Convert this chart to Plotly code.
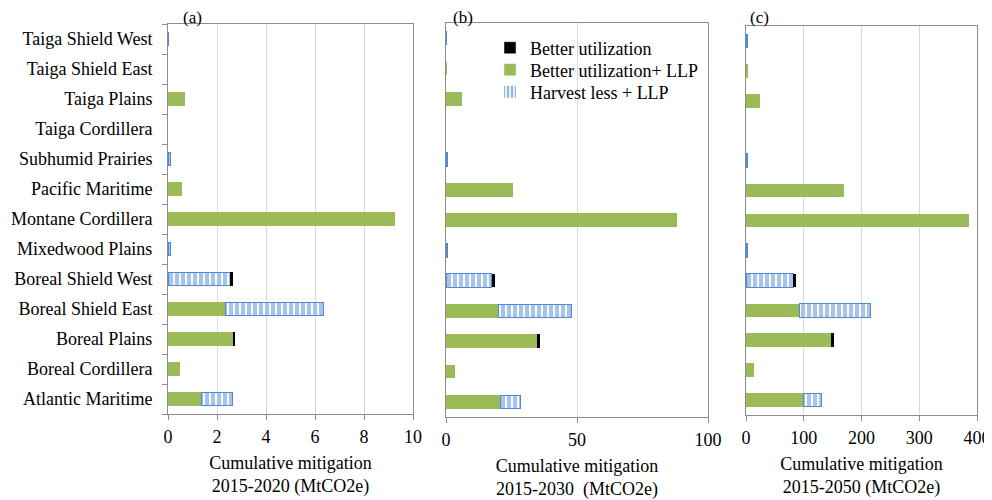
import plotly.graph_objects as go

categories = ["Taiga Shield West", "Taiga Shield East", "Taiga Plains", "Taiga Cordillera",
              "Subhumid Prairies", "Pacific Maritime", "Montane Cordillera", "Mixedwood Plains",
              "Boreal Shield West", "Boreal Shield East", "Boreal Plains", "Boreal Cordillera",
              "Atlantic Maritime"]

# Panel (a) 2015-2020
a_llp = [0, 0, 0.7, 0, 0, 0.58, 9.28, 0, 0, 2.35, 2.69, 0.48, 1.36]
a_harvest = [0.02, 0, 0, 0, 0.1, 0, 0, 0.1, 2.57, 4.0, 0, 0, 1.28]
a_better = [0, 0, 0, 0, 0, 0, 0, 0, 0.07, 0, 0.06, 0, 0]

# Panel (b) 2015-2030
b_llp = [0, 0.3, 6.0, 0, 0, 25.6, 88.2, 0, 0, 20.2, 34.7, 3.3, 20.9]
b_harvest = [0.3, 0, 0, 0, 0.6, 0, 0, 0.6, 17.4, 27.8, 0, 0, 7.7]
b_better = [0, 0, 0, 0, 0, 0, 0, 0, 1.3, 0, 1.3, 0, 0]

# Panel (c) 2015-2050
c_llp = [0, 3, 24, 0, 0, 170, 387, 0, 0, 92, 146.6, 14, 99]
c_harvest = [3, 0, 0, 0, 3, 0, 0, 3, 82, 124, 0, 0, 31]
c_better = [0, 0, 0, 0, 0, 0, 0, 0, 4.6, 0, 5.4, 0, 0]

x_ranges = [[0, 10], [0, 100], [0, 400]]
x_dticks = [2, 50, 100]
x_titles = ["Cumulative mitigation<br>2015-2020 (MtCO2e)",
            "Cumulative mitigation<br>2015-2030  (MtCO2e)",
            "Cumulative mitigation<br>2015-2050 (MtCO2e)"]
panel_labels = ["(a)", "(b)", "(c)"]
legend_names = ["Better utilization", "Better utilization+ LLP", "Harvest less + LLP"]

GREEN = "#9BBB59"
BLUE = "#5289D6"
BLACK = "#000000"
FONT = "Liberation Serif, Times New Roman, Times, serif"
FS = 18

# the page body adds an 8px offset, so the figure is 984x492 and positions are shifted by 8px
W, H = 984, 492
doms_x = [[160 / W, 405 / W], [438 / W, 700 / W], [738 / W, 969 / W]]
doms_y = [[1 - 406 / H, 1 - 16 / H], [1 - 409 / H, 1 - 15 / H], [1 - 407 / H, 1 - 18 / H]]


def nz(vals):
    return [v if v else None for v in vals]


fig = go.Figure()
panels = [(a_llp, a_harvest, a_better), (b_llp, b_harvest, b_better), (c_llp, c_harvest, c_better)]
for i, (llp, harv, bet) in enumerate(panels):
    xa = "x" if i == 0 else f"x{i+1}"
    ya = "y" if i == 0 else f"y{i+1}"
    fig.add_trace(go.Bar(y=categories, x=nz(llp), orientation="h", name=legend_names[1],
                         marker=dict(color=GREEN, line=dict(width=0)),
                         xaxis=xa, yaxis=ya, showlegend=False))
    fig.add_trace(go.Bar(y=categories, x=nz(harv), orientation="h", name=legend_names[2],
                         marker=dict(color="white", line=dict(color=BLUE, width=1),
                                     pattern=dict(shape="|", fgcolor=BLUE, bgcolor="white",
                                                  size=6, solidity=0.7)),
                         xaxis=xa, yaxis=ya, showlegend=False))
    fig.add_trace(go.Bar(y=categories, x=nz(bet), orientation="h", name=legend_names[0],
                         marker=dict(color=BLACK, line=dict(width=0)),
                         xaxis=xa, yaxis=ya, showlegend=False))

# legend-only entries, each in its own legend for precise row placement
legend_markers = [
    dict(color=BLACK),
    dict(color=GREEN),
    dict(color="white", line=dict(width=0),
         pattern=dict(shape="|", fgcolor="#1F70C4", bgcolor="white", size=5, solidity=0.6)),
]
legend_ids = ["legend", "legend2", "legend3"]
for name, mk, lid in zip(legend_names, legend_markers, legend_ids):
    fig.add_trace(go.Bar(y=[None], x=[None], orientation="h", name=name, marker=mk,
                         showlegend=True, legend=lid))

layout = dict(
    width=W, height=H, barmode="stack", bargap=0.55,
    margin=dict(l=0, r=0, t=0, b=0),
    plot_bgcolor="white", paper_bgcolor="white",
    font=dict(family=FONT, size=FS, color="black"),
)
legend_rows = [40, 62, 84]
for lid, ry in zip(legend_ids, legend_rows):
    layout[lid] = dict(x=482 / W, y=1 - ry / H, xanchor="left", yanchor="middle",
                       bgcolor="rgba(0,0,0,0)", font=dict(size=18, family=FONT))

for i in range(3):
    k = "" if i == 0 else str(i + 1)
    layout[f"xaxis{k}"] = dict(
        domain=doms_x[i], range=x_ranges[i], dtick=x_dticks[i], tick0=0,
        anchor=f"y{k}", showgrid=True, gridcolor="#D9D9D9", gridwidth=1,
        showline=True, linecolor="#8C8C8C", linewidth=1, mirror=True,
        ticks="outside", ticklen=5, tickcolor="#8C8C8C", ticklabelstandoff=1,
        zeroline=False, fixedrange=True, automargin=False,
        title=dict(text=x_titles[i], font=dict(size=FS, family=FONT), standoff=10),
        tickfont=dict(size=FS, family=FONT),
    )
    layout[f"yaxis{k}"] = dict(
        domain=doms_y[i], anchor=f"x{k}", type="category",
        categoryorder="array", categoryarray=categories[::-1],
        showline=True, linecolor="#8C8C8C", linewidth=1, mirror=True,
        showgrid=False, zeroline=False, automargin=False,
        ticks="outside" if i == 0 else "", ticklen=5, tickcolor="#8C8C8C",
        tickson="boundaries", showticklabels=(i == 0), ticklabelstandoff=11,
        tickfont=dict(size=FS, family=FONT),
    )
fig.update_layout(**layout)

label_x = [184, 455, 751]
for i in range(3):
    fig.add_annotation(text=panel_labels[i], x=label_x[i] / W, y=1 + 2 / H, xref="paper", yref="paper",
                       showarrow=False, font=dict(size=17, family=FONT), xanchor="center", yanchor="top")

fig.write_html("out.html")
